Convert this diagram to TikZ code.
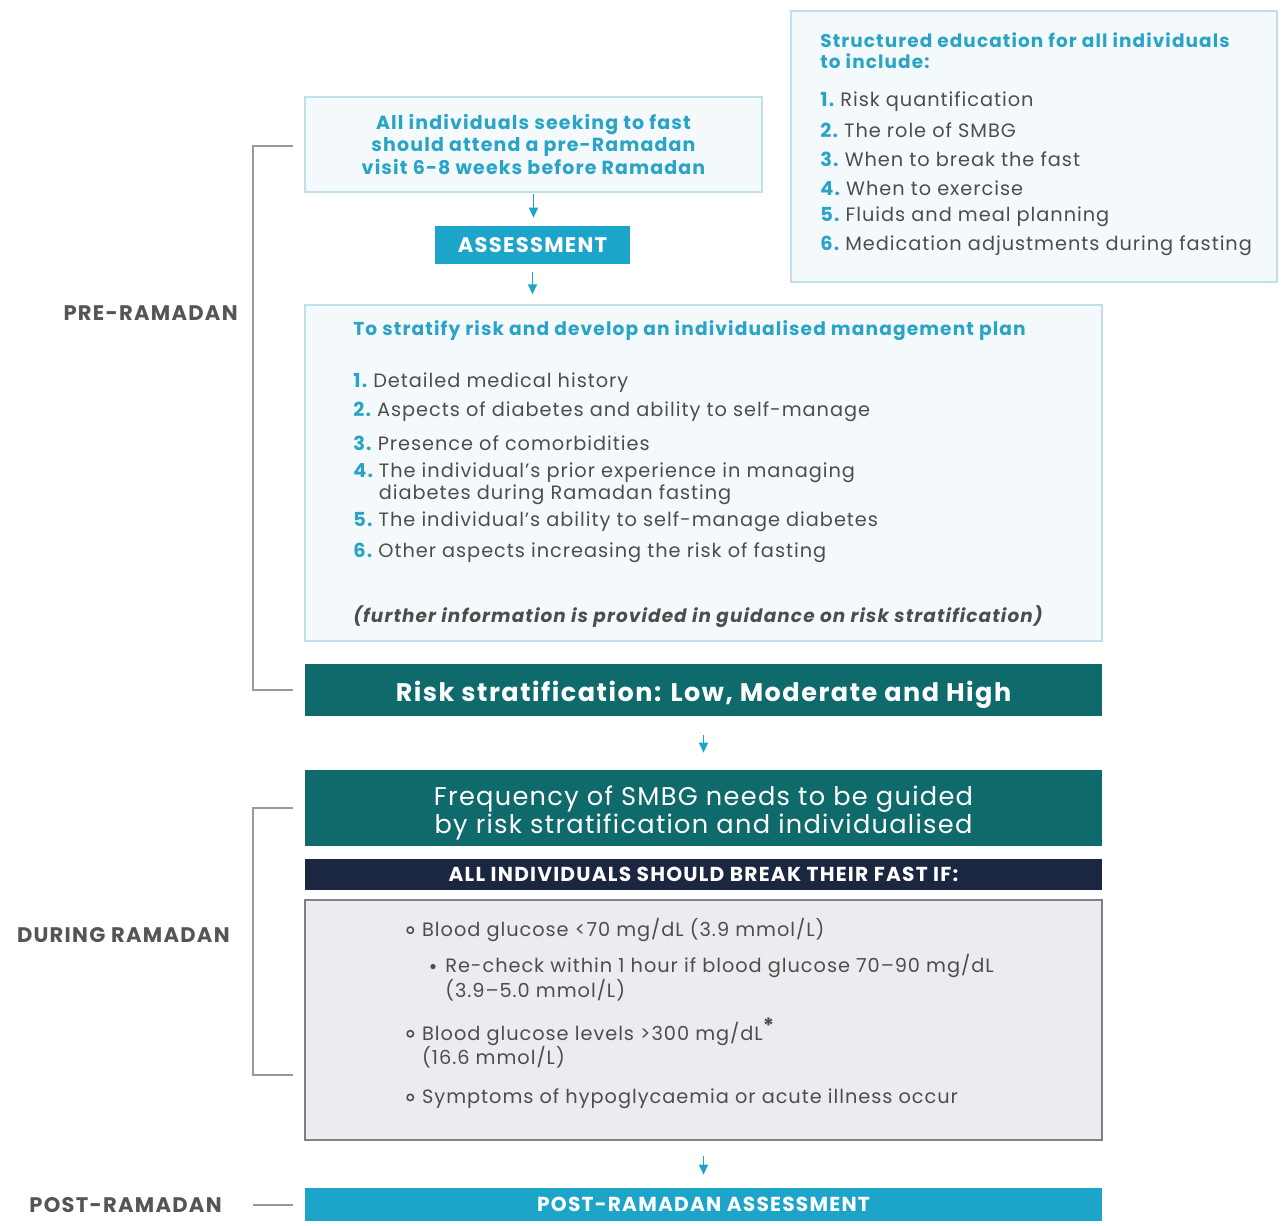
\documentclass[tikz,border=0pt]{standalone}
\usepackage{fontspec}
\setmainfont{Poppins}[LetterSpace=5,BoldFeatures={LetterSpace=6},BoldItalicFeatures={LetterSpace=6}]
\usetikzlibrary{arrows.meta}
\definecolor{cyantext}{HTML}{2AA4C6}
\definecolor{cyanfill}{HTML}{1DA5C9}
\definecolor{tealfill}{HTML}{0F6A6C}
\definecolor{navyfill}{HTML}{1B2640}
\definecolor{boxfill}{HTML}{F4F9FB}
\definecolor{boxline}{HTML}{BFE0EA}
\definecolor{greyfill}{HTML}{ECECF0}
\definecolor{greyline}{HTML}{808080}
\definecolor{textgrey}{HTML}{4D4D4D}
\definecolor{labelgrey}{HTML}{555555}
\tikzstyle{lightbox}=[draw=boxline,fill=boxfill,line width=0.8pt,inner sep=0pt]
\tikzstyle{bar}=[inner sep=0pt,text=white,align=center]
\tikzstyle{body}=[anchor=west,align=left,inner sep=0pt,text=textgrey,font=\fontsize{11}{12.5}\selectfont]
\tikzstyle{heading}=[anchor=west,align=left,inner sep=0pt,text=cyantext,font=\bfseries\fontsize{10.6}{12}\selectfont]
\tikzstyle{phase}=[anchor=east,inner sep=0pt,text=labelgrey,font=\bfseries\fontsize{12}{14}\selectfont\addfontfeatures{LetterSpace=7}]
\tikzstyle{flow}=[draw=cyanfill,line width=0.8pt,-{Triangle[width=0.18cm,length=0.2cm,fill=cyanfill]}]
\tikzstyle{bracket}=[draw=labelgrey!60,line width=0.9pt]
\newcommand{\itemno}[1]{\textcolor{cyantext}{\bfseries #1}~}
\newcommand{\numcell}[1]{\textcolor{cyantext}{\bfseries #1}}
\newcommand{\ringmark}{\tikz[baseline=-0.6ex]\draw[line width=0.9pt,textgrey] (0,0) circle (1.8pt);}
\newcommand{\dotmark}{\tikz[baseline=-0.6ex]\fill[textgrey] (0,0) circle (1.5pt);}

\begin{document}
\begin{tikzpicture}[x=0.02cm,y=-0.02cm]
  \useasboundingbox (0,0) rectangle (1281,1225);

  % pre-Ramadan
  \node[lightbox,minimum width=9.72cm,minimum height=5.42cm] (edu) at (1034,146.5) {};
  \node[heading,font=\bfseries\fontsize{10.5}{11.8}\selectfont] (edut) at (820,50.5) {Structured education for all individuals\\to include:};
  \node[body] (e1) at (820,102) {\itemno{1.}Risk quantification};
  \node[body] (e2) at (820,130) {\itemno{2.}The role of SMBG};
  \node[body] (e3) at (820,159) {\itemno{3.}When to break the fast};
  \node[body] (e4) at (820,188) {\itemno{4.}When to exercise};
  \node[body] (e5) at (820,217) {\itemno{5.}Fluids and meal planning};
  \node[body] (e6) at (820,246) {\itemno{6.}Medication adjustments during fasting};

  \node[lightbox,minimum width=9.14cm,minimum height=1.9cm,align=center,text=cyantext,
    font=\bfseries\fontsize{10.8}{12.8}\selectfont] (visit) at (533.5,144.5)
    {All individuals seeking to fast\\should attend a pre-Ramadan\\visit 6-8 weeks before Ramadan};
  \node[bar,fill=cyanfill,minimum width=3.9cm,minimum height=0.76cm,
    font=\bfseries\fontsize{12}{13}\selectfont] (assess) at (532.5,245) {ASSESSMENT};

  \node[lightbox,minimum width=15.94cm,minimum height=6.72cm] (strat) at (703.5,473) {};
  \node[heading] (stratt) at (353,331) {To stratify risk and develop an individualised management plan};
  \node[body] (s1) at (353,383) {\itemno{1.}Detailed medical history};
  \node[body] (s2) at (353,412) {\itemno{2.}Aspects of diabetes and ability to self-manage};
  \node[body] (s3) at (353,443) {\itemno{3.}Presence of comorbidities};
  \node[body] (s4) at (353,484) {\begin{tabular}{@{}l@{\hspace{0.3em}}l@{}}\numcell{4.}&The individual’s prior experience in managing\\&diabetes during Ramadan fasting\end{tabular}};
  \node[body] (s5) at (353,522) {\itemno{5.}The individual’s ability to self-manage diabetes};
  \node[body] (s6) at (353,553) {\itemno{6.}Other aspects increasing the risk of fasting};
  \node[body,font=\itshape\bfseries\fontsize{10.5}{12}\selectfont] (snote) at (353,617)
    {(further information is provided in guidance on risk stratification)};

  \node[bar,fill=tealfill,minimum width=15.94cm,minimum height=1.04cm,
    font=\bfseries\fontsize{14.5}{16}\selectfont] (risk) at (703.5,690)
    {\raisebox{-2.8pt}[\height][\depth]{Risk stratification: Low, Moderate and High}};

  % during Ramadan
  \node[bar,fill=tealfill,minimum width=15.94cm,minimum height=1.52cm,
    font=\fontsize{14.6}{15.9}\selectfont] (freq) at (703.5,808)
    {\raisebox{-3.4pt}[\height][\depth]{\begin{tabular}{@{}c@{}}Frequency of SMBG needs to be guided\\by risk stratification and individualised\end{tabular}}};
  \node[bar,fill=navyfill,minimum width=15.94cm,minimum height=0.62cm,
    font=\bfseries\fontsize{11.5}{12}\selectfont\addfontfeatures{LetterSpace=11}] (breakif) at (703.5,874.5) {ALL INDIVIDUALS SHOULD BREAK THEIR FAST IF:};
  \node[draw=greyline,fill=greyfill,line width=0.9pt,inner sep=0pt,minimum width=15.94cm,minimum height=4.8cm] (rules) at (703.5,1020) {};
  \node[body] (r1) at (406,930) {\ringmark\hspace{4.5pt}Blood glucose <70 mg/dL (3.9 mmol/L)};
  \node[body] (r2) at (430,979.5) {\begin{tabular}{@{}l@{\hspace{5.5pt}}l@{}}\dotmark&Re-check within 1 hour if blood glucose 70–90 mg/dL\\&(3.9–5.0 mmol/L)\end{tabular}};
  \node[body] (r3) at (406,1044.5) {\begin{tabular}{@{}l@{\hspace{4.5pt}}l@{}}\ringmark&Blood glucose levels >300 mg/dL\textsuperscript{\bfseries\large *}\\&(16.6 mmol/L)\end{tabular}};
  \node[body] (r4) at (406,1099) {\ringmark\hspace{4.5pt}Symptoms of hypoglycaemia or acute illness occur};

  % post-Ramadan
  \node[bar,fill=cyanfill,minimum width=15.94cm,minimum height=0.66cm,
    font=\bfseries\fontsize{11.5}{13}\selectfont\addfontfeatures{LetterSpace=9}] (post) at (703.5,1204.5) {POST-RAMADAN ASSESSMENT};

  \draw[flow,shorten <=0.02cm,shorten >=0.16cm] (visit.south) -- (visit.south |- assess.north);
  \draw[flow,shorten <=0.16cm,shorten >=0.2cm] (assess.south) -- (assess.south |- strat.north);
  \draw[flow,shorten <=0.38cm,shorten >=0.34cm] (risk) -- (freq);
  \draw[flow,shorten <=0.3cm,shorten >=0.26cm] (rules) -- (post);

  % phase labels
  \node[phase] (pre) at (238,313) {PRE-RAMADAN};
  \node[phase] (during) at (230,935) {DURING RAMADAN};
  \node[phase] (after) at (222,1205) {POST-RAMADAN};
  \draw[bracket] (293,146) -| (253,690) -- (293,690);
  \draw[bracket] (293,808) -| (253,1075) -- (293,1075);
  \draw[bracket] (253,1205) -- (293,1205);
\end{tikzpicture}
\end{document}
